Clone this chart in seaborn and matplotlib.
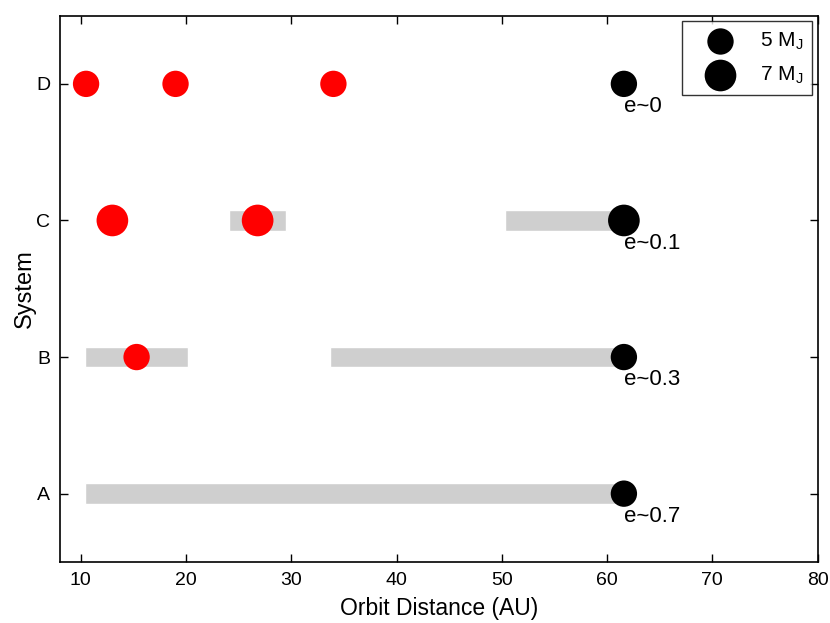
import matplotlib
matplotlib.use("Agg")
import matplotlib.pyplot as plt
import numpy as np
import pandas as pd
import seaborn as sns

systems = ["A", "B", "C", "D"]

# stability regions (gray bands): system, start, end
band_system = ["A", "B", "B", "C", "C"]
band_start = [10.4, 10.4, 33.7, 24.1, 50.3]
band_end = [61.5, 20.2, 61.5, 29.5, 61.5]

# inner planets (red)
inner_system = ["D", "D", "D", "C", "C", "B"]
inner_dist = [10.5, 19.0, 34.0, 13.0, 26.8, 15.3]
inner_mass = [5, 5, 5, 7, 7, 5]

# outer planet (black) with eccentricity
outer_system = ["A", "B", "C", "D"]
outer_dist = [61.6, 61.6, 61.6, 61.6]
outer_mass = [5, 5, 7, 5]
outer_ecc = ["e~0.7", "e~0.3", "e~0.1", "e~0"]

sns.set_style("white", {"xtick.bottom": True, "ytick.left": True,
                        "text.color": "black", "axes.labelcolor": "black",
                        "xtick.color": "black", "ytick.color": "black",
                        "axes.edgecolor": "black"})
plt.rcParams["font.family"] = ["Liberation Sans", "DejaVu Sans"]

ypos = {s: i for i, s in enumerate(systems)}
sizes = {5: 360, 7: 520}

fig, ax = plt.subplots(figsize=(8.3, 6.23), dpi=100)

ax.barh([ypos[s] for s in band_system],
        np.array(band_end) - np.array(band_start),
        left=band_start, height=0.15, color="#cfcfcf", zorder=1)

inner = pd.DataFrame({"y": [ypos[s] for s in inner_system],
                      "x": inner_dist, "m": inner_mass})
outer = pd.DataFrame({"y": [ypos[s] for s in outer_system],
                      "x": outer_dist, "m": outer_mass})

sns.scatterplot(data=inner, x="x", y="y", size="m", sizes=sizes,
                color="red", linewidth=0, legend=False, ax=ax, zorder=3)
sns.scatterplot(data=outer, x="x", y="y", size="m", sizes=sizes,
                color="black", linewidth=0, legend=False, ax=ax, zorder=3)

for s, x, e in zip(outer_system, outer_dist, outer_ecc):
    ax.text(x, ypos[s] - 0.09, e, ha="left", va="top", fontsize=16)

ax.set_xlim(8, 80)
ax.set_ylim(-0.5, 3.5)
ax.set_yticks(range(len(systems)))
ax.set_yticklabels(systems)
ax.set_xticks(range(10, 81, 10))
ax.set_xlabel("Orbit Distance (AU)", fontsize=16.5, labelpad=6)
ax.set_ylabel("System", fontsize=17, labelpad=0)
ax.tick_params(direction="in", top=True, right=True, bottom=True, left=True,
               length=6, width=1, labelsize=14, pad=7)
for sp in ax.spines.values():
    sp.set_linewidth(1.2)

h5 = ax.scatter([], [], s=sizes[5], color="black", linewidth=0)
h7 = ax.scatter([], [], s=sizes[7], color="black", linewidth=0)
leg = ax.legend([h5, h7], ["5 M$_\\mathregular{J}$", "7 M$_\\mathregular{J}$"],
                loc="upper right", fontsize=15, frameon=True, fancybox=False,
                edgecolor="black", labelspacing=0.6, borderpad=0.45,
                handlelength=2.8, handletextpad=0.5, borderaxespad=0.25)
leg.get_frame().set_linewidth(1.0)

plt.subplots_adjust(left=0.072, right=0.985, top=0.975, bottom=0.098)
fig.savefig("out.png", dpi=100)
